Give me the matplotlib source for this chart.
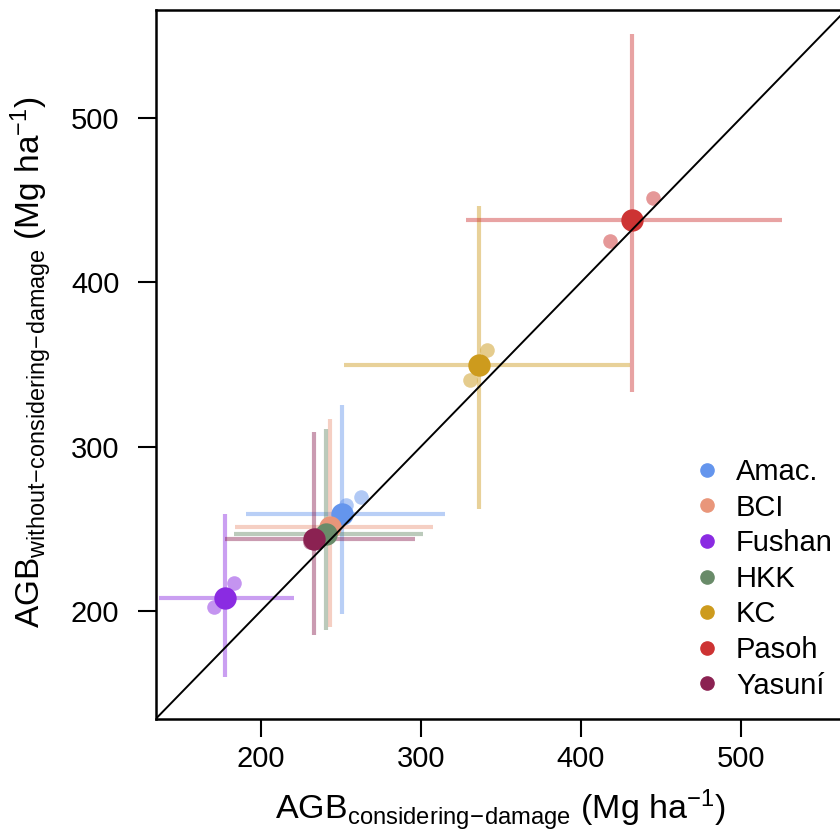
import matplotlib
matplotlib.use('Agg')
import matplotlib.pyplot as plt
from matplotlib.lines import Line2D

plt.rcParams['font.family'] = ['Liberation Sans', 'DejaVu Sans']
plt.rcParams['mathtext.fontset'] = 'custom'
plt.rcParams['mathtext.rm'] = 'Liberation Sans'
plt.rcParams['mathtext.it'] = 'Liberation Sans'

# sites and colours
sites = ['Amac.', 'BCI', 'Fushan', 'HKK', 'KC', 'Pasoh', 'Yasuní']
colors = ['#6495ED', '#E9967A', '#8A2BE2', '#698B69', '#CD9B1D', '#CD3333', '#8B2252']

# mean AGB (x: considering damage, y: without considering damage)
x_mean = [250.5, 243.0, 177.5, 240.5, 336.5, 431.7, 233.0]
y_mean = [259.0, 251.0, 208.0, 247.0, 349.5, 438.0, 244.0]
# error bar extents
x_lo = [191.0, 184.0, 136.5, 183.0, 252.0, 328.0, 177.5]
x_hi = [315.0, 307.5, 220.5, 301.5, 430.5, 525.5, 296.0]
y_lo = [198.0, 190.0, 160.0, 188.5, 262.0, 333.0, 185.5]
y_hi = [325.0, 316.5, 259.0, 310.5, 446.5, 551.0, 309.0]

# individual census values (small points)
small_x = [[253.5, 262.5], [246.0, 241.0], [183.0, 170.5], [242.0, 239.0],
           [341.0, 330.5], [445.0, 418.0], [235.0, 231.0]]
small_y = [[264.5, 269.5], [253.0, 249.0], [217.0, 202.5], [248.5, 245.5],
           [359.0, 340.5], [451.0, 425.0], [246.0, 242.0]]

fig = plt.figure(figsize=(8.4, 8.4), dpi=100)
ax = fig.add_axes([155.5 / 840, 121 / 840, (846 - 155.5) / 840, 709 / 840])

for i in range(len(sites)):
    ax.plot([x_lo[i], x_hi[i]], [y_mean[i], y_mean[i]], color=colors[i], lw=3, alpha=0.45,
            solid_capstyle='butt', zorder=2)
    ax.plot([x_mean[i], x_mean[i]], [y_lo[i], y_hi[i]], color=colors[i], lw=3, alpha=0.45,
            solid_capstyle='butt', zorder=2)

for i in range(len(sites)):
    ax.scatter(small_x[i], small_y[i], s=110, color=colors[i], alpha=0.5, lw=0, zorder=3)

for i in range(len(sites)):
    ax.scatter(x_mean[i], y_mean[i], s=260, color=colors[i], lw=0, zorder=4)

ax.plot([0, 1000], [0, 1000], color='black', lw=1.4, zorder=5)

ax.set_xlim(134.2, 565.5)
ax.set_ylim(134.3, 565.5)
ax.set_xticks([200, 300, 400, 500])
ax.set_yticks([200, 300, 400, 500])
ax.tick_params(axis='both', length=13, width=1.5, labelsize=21)
ax.tick_params(axis='x', pad=6)
ax.tick_params(axis='y', pad=13)
for sp in ax.spines.values():
    sp.set_linewidth(1.8)

ax.set_xlabel(r'AGB$_{\mathrm{considering\!-\!damage}}$ (Mg ha$^{-1}$)', fontsize=24.5)
ax.set_ylabel(r'AGB$_{\mathrm{without\!-\!considering\!-\!damage}}$ (Mg ha$^{-1}$)', fontsize=24)
ax.xaxis.set_label_coords((500 - 155.5) / (846 - 155.5), -(788 - 719) / 709)
ax.yaxis.set_label_coords(-(155.5 - 54) / (846 - 155.5), (719 - 362) / 709)

handles = [Line2D([], [], marker='o', ls='', color=c, markersize=9.5) for c in colors]
ax.legend(handles, sites, loc='upper left', bbox_to_anchor=(698 / 840, (840 - 458) / 840),
          bbox_transform=fig.transFigure, frameon=False, fontsize=21, handlelength=0.6,
          handletextpad=0.7, labelspacing=0.26, borderpad=0, borderaxespad=0)

fig.savefig('out.png', dpi=100)
